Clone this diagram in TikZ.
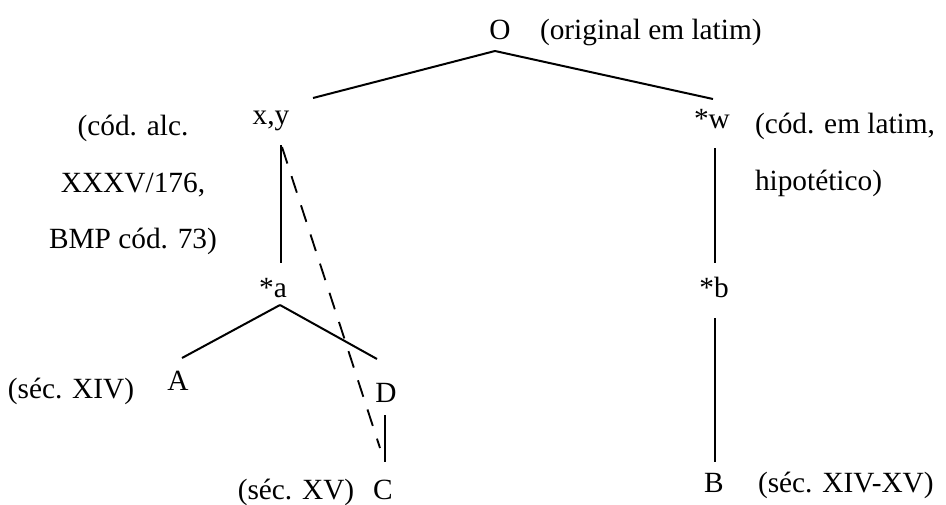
\documentclass[tikz,border=0pt]{standalone}
\usepackage{fontspec}
\setmainfont{Liberation Serif}
\usetikzlibrary{calc}
\begin{document}
\begin{tikzpicture}[x=0.75pt,y=-0.75pt,
  every node/.style={inner sep=0pt,outer sep=0pt,font=\fontsize{22}{26}\selectfont},
  lbl/.style={anchor=base},
  lblw/.style={anchor=base west},
  edge/.style={line width=1.5pt},
  dashedge/.style={line width=1.4pt,dash pattern=on 13pt off 10pt}]
\useasboundingbox (0,0) rectangle (946,504);
% witnesses
\node[lbl] (O) at (500,39) {O};
\node[lblw] (Olab) at (540,39) {(original em latim)};
\node[lbl] (xy) at (271,124) {x,y};
\node[lbl] (w) at (712,128) {*w};
\node[lbl] (a) at (273,297) {*a};
\node[lbl] (b) at (714,297) {*b};
\node[lbl] (A) at (178,390) {A};
\node[lbl] (D) at (386,402) {D};
\node[lbl] (C) at (383,499) {C};
\node[lbl] (B) at (714,492) {B};
% labels
\node[lbl] (cod1) at (133,135) {(cód. alc.};
\node[lbl] (cod2) at (133,192) {XXXV/176,};
\node[lbl] (cod3) at (133,248) {BMP cód. 73)};
\node[lblw] (wlab1) at (755,133) {(cód. em latim,};
\node[lblw] (wlab2) at (755,190) {hipotético)};
\node[lbl] (Alab) at (71,398) {(séc. XIV)};
\node[lbl] (Clab) at (296,499) {(séc. XV)};
\node[lblw] (Blab) at (758,492) {(séc. XIV-XV)};
% connectors
\draw[edge] ($(O.base)+(-5,12)$) -- ($(xy.base)+(42,-26)$);
\draw[edge] ($(O.base)+(-5,12)$) -- ($(w.base)+(1,-29)$);
\draw[edge] ($(xy.base)+(10,21)$) -- ($(a.base)+(8,-34)$);
\draw[dashedge] ($(xy.base)+(11,23)$) -- ($(C.base)+(-3,-51)$);
\draw[edge] ($(a.base)+(7,8)$) -- ($(A.base)+(4,-32)$);
\draw[edge] ($(a.base)+(7,8)$) -- ($(D.base)+(-9,-43)$);
\draw[edge] ($(D.base)+(-1,13)$) -- ($(C.base)+(2,-37)$);
\draw[edge] ($(w.base)+(3,20)$) -- ($(b.base)+(1,-34)$);
\draw[edge] ($(b.base)+(1,21)$) -- ($(B.base)+(1,-30)$);
\end{tikzpicture}
\end{document}
